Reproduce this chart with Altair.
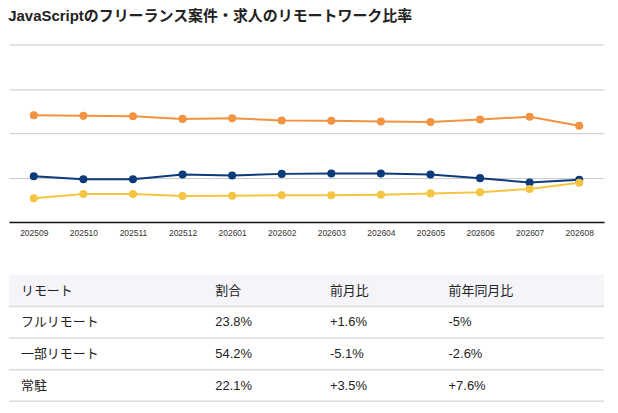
import altair as alt
import pandas as pd

months = ["202509", "202510", "202511", "202512", "202601", "202602",
          "202603", "202604", "202605", "202606", "202607", "202608"]
series_names = ["一部リモート", "フルリモート", "常駐"]
partial = [60.2, 59.8, 59.6, 58.1, 58.5, 57.2, 57.0, 56.6, 56.4, 57.8, 59.3, 54.2]
full = [25.8, 24.1, 24.1, 26.7, 26.2, 27.1, 27.3, 27.3, 26.7, 24.7, 22.2, 23.8]
onsite = [13.3, 15.7, 15.7, 14.6, 14.8, 15.1, 15.1, 15.3, 16.1, 16.8, 18.6, 22.1]
colors = ["#f29341", "#0b3b7a", "#f4c443"]

table_header = ["リモート", "割合", "前月比", "前年同月比"]
table_rows = [
    ["フルリモート", "23.8%", "+1.6%", "-5%"],
    ["一部リモート", "54.2%", "-5.1%", "-2.6%"],
    ["常駐", "22.1%", "+3.5%", "+7.6%"],
]
col_x = [12, 207, 322, 441]

FONT = "Liberation Sans, Noto Sans CJK JP, sans-serif"
W = 597

rows = []
for name, vals in zip(series_names, [partial, full, onsite]):
    for m, v in zip(months, vals):
        rows.append({"month": m, "series": name, "value": v})
df = pd.DataFrame(rows)

xenc = alt.X("month:O", sort=months, title=None,
             scale=alt.Scale(paddingOuter=0.5),
             axis=alt.Axis(labelAngle=0, labelFontSize=8.5, labelColor="#333",
                           labelFont=FONT, ticks=False, domainColor="#111",
                           domainWidth=1.5, labelPadding=7, grid=False))
yenc = alt.Y("value:Q", title=None,
             scale=alt.Scale(domain=[0, 100]),
             axis=alt.Axis(values=[0, 25, 50, 75, 100], labels=False, ticks=False,
                           domain=False, gridColor="#c8c8c8", gridWidth=1))
cenc = alt.Color("series:N", scale=alt.Scale(domain=series_names, range=colors), legend=None)

base = alt.Chart(df).encode(x=xenc, y=yenc, color=cenc)
lines = base.mark_line(strokeWidth=2)
points = base.mark_circle(size=65, opacity=1)
line_chart = alt.layer(lines, points).properties(width=W, height=178)

# table
cells = []
for ci, h in enumerate(table_header):
    cells.append({"row": 0, "col": h, "text": h})
for ri, r in enumerate(table_rows):
    for ci, t in enumerate(r):
        cells.append({"row": ri + 1, "col": table_header[ci], "text": t})
tdf = pd.DataFrame(cells)
tdf["ymid"] = tdf["row"] + 0.5

yscale = alt.Scale(domain=[0, 4], reverse=True)
hdr_df = pd.DataFrame({"y0": [0], "y1": [1]})
header_bg = alt.Chart(hdr_df).mark_rect(color="#f4f4f9").encode(
    x=alt.value(0), x2=alt.value(W),
    y=alt.Y("y0:Q", scale=yscale, axis=None), y2="y1:Q")
sep_df = pd.DataFrame({"y": [1, 2, 3, 4]})
seps = alt.Chart(sep_df).mark_rule(color="#dcdcdc", strokeWidth=1.5).encode(
    x=alt.value(0), x2=alt.value(W),
    y=alt.Y("y:Q", scale=yscale, axis=None))
text_layers = []
for h, cx in zip(table_header, col_x):
    text_layers.append(
        alt.Chart(tdf).transform_filter(alt.datum.col == h)
        .mark_text(align="left", baseline="middle", fontSize=13, font=FONT, color="#222")
        .encode(x=alt.value(cx), y=alt.Y("ymid:Q", scale=yscale, axis=None), text="text:N")
    )
table = alt.layer(header_bg, seps, *text_layers).properties(width=W, height=127)

chart = alt.vconcat(line_chart, table, spacing=37).properties(
    title=alt.TitleParams("JavaScriptのフリーランス案件・求人のリモートワーク比率",
                          anchor="start", fontSize=15, font=FONT, fontWeight="bold",
                          color="#222", offset=21),
    padding={"left": 0, "top": 0, "right": 5, "bottom": 5},
).configure_view(stroke=None)

chart.save("out.html", embed_options={"renderer": "svg", "actions": False})
